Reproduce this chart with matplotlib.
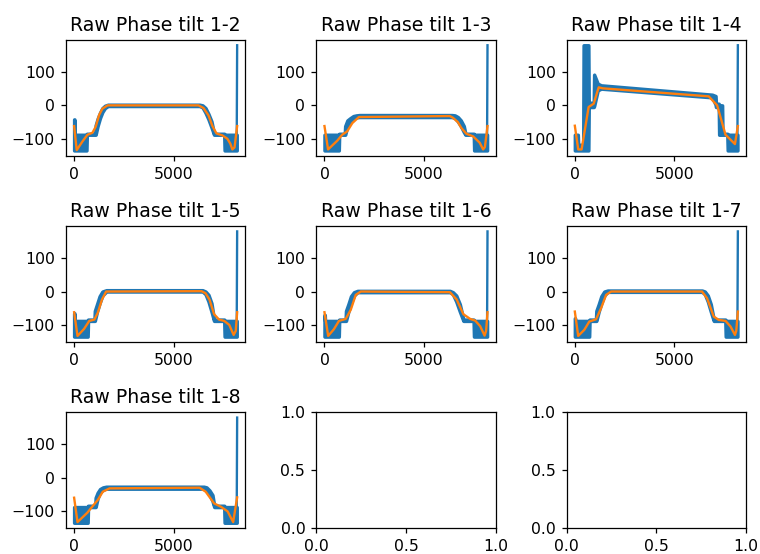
import matplotlib
matplotlib.use("Agg")
import matplotlib.pyplot as plt

# raw phase envelopes (blue): sample index breakpoints, lower / upper edge of the wrapped noise band
x_raw_12 = [0, 15, 30, 620, 640, 1060, 1080, 1180, 1300, 1420, 1550, 1700, 6300, 6450, 6600, 6750, 6900, 7030, 7540, 7560, 8150, 8170, 8191]
lo_12 = [-135, -135, -135, -135, -88, -88, -88, -62, -38, -20, -8, -2, -2, -6, -22, -42, -66, -88, -88, -135, -135, -135, -88]
hi_12 = [-42, -42, -88, -88, -85, -85, -60, -40, -22, -8, -1, 2, 2, 0, -8, -26, -48, -85, -85, -88, -88, -88, 180]

x_raw_13 = [0, 720, 740, 1020, 1040, 1150, 1300, 1450, 1600, 1750, 6400, 6550, 6700, 6850, 7000, 7080, 7500, 7520, 8150, 8170, 8191]
lo_13 = [-135, -135, -88, -88, -88, -62, -48, -40, -36, -35, -35, -38, -48, -62, -80, -88, -88, -135, -135, -135, -88]
hi_13 = [-88, -88, -85, -85, -62, -45, -38, -32, -30, -29, -29, -30, -35, -45, -62, -85, -85, -88, -88, -88, 180]

x_raw_14 = [0, 150, 170, 420, 440, 680, 700, 950, 970, 1150, 1320, 6900, 7070, 7090, 7230, 7250, 7400, 7420, 7660, 7680, 8150, 8170, 8191]
lo_14 = [-135, -135, -135, -135, -135, -135, -5, -5, -2, 45, 50, 24, 2, -5, -5, -88, -88, -88, -88, -135, -135, -135, -88]
hi_14 = [-88, -88, -118, -118, 180, 180, 8, 8, 92, 65, 60, 32, 28, 5, 5, 0, 0, -85, -85, -88, -88, -88, 180]

x_raw_15 = [0, 15, 30, 680, 700, 1020, 1040, 1150, 1280, 1420, 1620, 6450, 6600, 6750, 6900, 7030, 7540, 7560, 8150, 8170, 8191]
lo_15 = [-135, -135, -135, -135, -88, -88, -88, -60, -35, -12, 0, 0, -8, -30, -60, -88, -88, -135, -135, -135, -88]
hi_15 = [-65, -65, -88, -88, -84, -84, -58, -38, -14, 0, 4, 4, 0, -10, -35, -84, -84, -88, -88, -88, 180]

x_raw_16 = [0, 15, 30, 720, 740, 1060, 1080, 1200, 1330, 1480, 1660, 6300, 6450, 6620, 6800, 6980, 7490, 7510, 8150, 8170, 8191]
lo_16 = [-135, -135, -135, -135, -88, -88, -88, -60, -35, -12, -2, -2, -8, -30, -60, -88, -88, -135, -135, -135, -88]
hi_16 = [-70, -70, -88, -88, -84, -84, -58, -38, -14, -2, 2, 2, -2, -12, -38, -84, -84, -88, -88, -88, 180]

x_raw_17 = [0, 15, 30, 720, 740, 1060, 1080, 1200, 1330, 1480, 1650, 6390, 6530, 6680, 6830, 6980, 7560, 7580, 8150, 8170, 8191]
lo_17 = [-135, -135, -135, -135, -88, -88, -88, -60, -35, -12, -1, -1, -8, -30, -60, -88, -88, -135, -135, -135, -88]
hi_17 = [-80, -80, -88, -88, -84, -84, -58, -38, -14, 0, 3, 3, 0, -12, -38, -84, -84, -88, -88, -88, 180]

x_raw_18 = [0, 680, 700, 1060, 1080, 1180, 1300, 1450, 1610, 6520, 6650, 6800, 6950, 7040, 7540, 7560, 8150, 8170, 8191]
lo_18 = [-135, -135, -88, -88, -88, -62, -45, -36, -33, -33, -38, -50, -70, -88, -88, -135, -135, -135, -88]
hi_18 = [-88, -88, -84, -84, -60, -45, -34, -29, -27, -27, -29, -38, -52, -84, -84, -88, -88, -88, 180]

# fitted phase (orange)
x_fit_12 = [0, 130, 420, 670, 920, 1085, 1255, 1420, 1680, 6250, 6500, 6750, 6950, 7150, 7450, 7700, 7850, 7950, 8060, 8191]
y_fit_12 = [-62, -134, -108, -88, -82, -64, -29, -10, 0, 0, -8, -30, -62, -84, -90, -100, -115, -132, -126, -62]

x_fit_13 = [0, 180, 640, 890, 1140, 1400, 1730, 6300, 6450, 6700, 6880, 7130, 7470, 7800, 7970, 8060, 8191]
y_fit_13 = [-62, -132, -106, -88, -78, -53, -35, -32, -37, -50, -68, -85, -93, -112, -132, -125, -62]

x_fit_14 = [0, 170, 340, 693, 946, 1200, 1403, 6726, 7149, 7571, 8044, 8191]
y_fit_14 = [-61, -132, -132, -5, 5, 54, 51, 27, 0, -88, -116, -62]

x_fit_15 = [0, 170, 500, 760, 1017, 1186, 1400, 1610, 6400, 6600, 6800, 7034, 7280, 7540, 7795, 8015, 8120, 8191]
y_fit_15 = [-62, -133, -112, -88, -84, -64, -24, 0, 1, -5, -24, -68, -84, -88, -100, -130, -118, -62]

x_fit_16 = [0, 186, 473, 727, 1065, 1318, 1572, 1825, 6304, 6642, 6980, 7318, 7571, 7825, 8044, 8120, 8191]
y_fit_16 = [-62, -133, -113, -88, -82, -55, -10, 0, -2, -24, -68, -82, -87, -104, -132, -118, -62]

x_fit_17 = [0, 169, 473, 727, 1065, 1318, 1572, 1825, 6390, 6642, 6980, 7233, 7571, 7825, 8044, 8110, 8191]
y_fit_17 = [-60, -133, -115, -90, -83, -50, -10, 0, 0, -20, -75, -85, -88, -105, -130, -118, -60]

x_fit_18 = [0, 170, 678, 932, 1186, 1440, 1780, 6300, 6610, 7034, 7373, 7712, 7990, 8191]
y_fit_18 = [-60, -133, -104, -85, -67, -42, -32, -30, -42, -77, -87, -101, -133, -59]

labels = ["1-2", "1-3", "1-4", "1-5", "1-6", "1-7", "1-8"]
raw = [(x_raw_12, lo_12, hi_12), (x_raw_13, lo_13, hi_13), (x_raw_14, lo_14, hi_14),
       (x_raw_15, lo_15, hi_15), (x_raw_16, lo_16, hi_16), (x_raw_17, lo_17, hi_17),
       (x_raw_18, lo_18, hi_18)]
fit = [(x_fit_12, y_fit_12), (x_fit_13, y_fit_13), (x_fit_14, y_fit_14), (x_fit_15, y_fit_15),
       (x_fit_16, y_fit_16), (x_fit_17, y_fit_17), (x_fit_18, y_fit_18)]

DPI = 113
fig, axes = plt.subplots(3, 3, figsize=(760 / DPI, 554 / DPI), dpi=DPI)
fig.subplots_adjust(left=0.0868, right=0.9816, top=0.9278, bottom=0.0469,
                    wspace=0.396, hspace=0.609)

for ax, lab, (xr, lo, hi), (xf, yf) in zip(axes.flat, labels, raw, fit):
    # dense wrapped-phase noise reads as a thick smear, hence the wide edge;
    # the single wrap sample at the very end is just a thin line
    ax.fill_between(xr[:-1], lo[:-1], hi[:-1], color="C0", linewidth=2.2)
    ax.plot(xr[-2:], hi[-2:], color="C0")
    ax.plot(xf, yf, color="C1")
    ax.set_title(f"Raw Phase tilt {lab}")

fig.savefig("out.png", dpi=DPI)
